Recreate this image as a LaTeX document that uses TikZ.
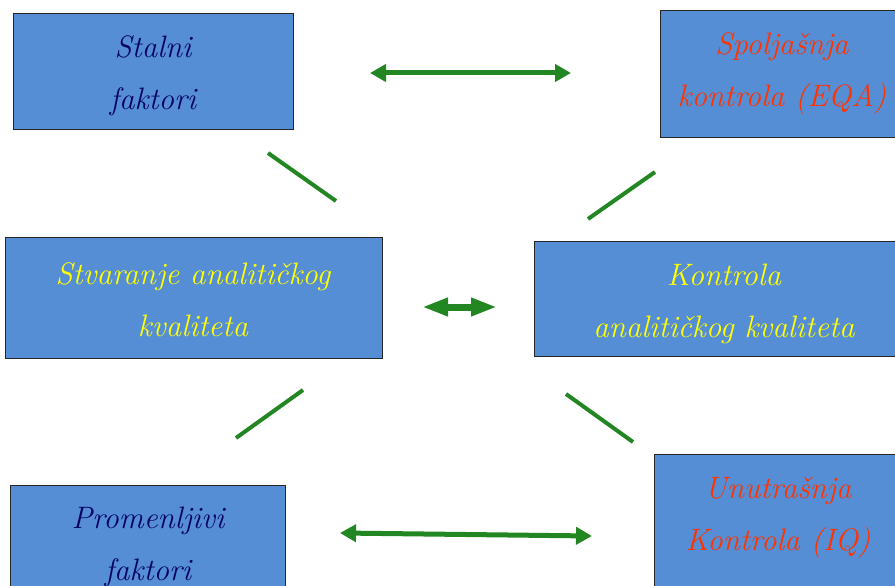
\documentclass[tikz,border=0pt]{standalone}
\usetikzlibrary{arrows.meta}
\definecolor{boxblue}{RGB}{85,142,213}
\definecolor{navytxt}{RGB}{5,5,100}
\definecolor{redtxt}{RGB}{255,51,0}
\definecolor{yeltxt}{RGB}{255,255,0}
\definecolor{grn}{RGB}{34,134,34}
\begin{document}
\begin{tikzpicture}[x=1pt,y=-1pt,
  box/.style={draw=black!85, line width=1pt, fill=boxblue, inner sep=0pt, anchor=north west},
  txt/.style={align=center, inner sep=0pt, font=\fontsize{31}{52}\selectfont\itshape},
  garrow/.style={draw=grn, line width=5pt, {Triangle[length=16pt,width=17pt]}-{Triangle[length=16pt,width=17pt]}},
  gshort/.style={draw=grn, line width=7pt, {Triangle[length=26pt,width=17pt]}-{Triangle[length=26pt,width=17pt]}},
  gline/.style={draw=grn, line width=4pt}]
\useasboundingbox (0,0) rectangle (895,586);
\begin{scope}
\clip (0,0) rectangle (895,586);
% boxes
\node[box, minimum width=280pt, minimum height=116pt] (b1) at (13,13) {};
\node[box, minimum width=250pt, minimum height=127pt] (b2) at (660,10) {};
\node[box, minimum width=377pt, minimum height=121pt] (b3) at (5,237) {};
\node[box, minimum width=380pt, minimum height=115pt] (b4) at (534,241) {};
\node[box, minimum width=275pt, minimum height=130pt] (b5) at (10,485) {};
\node[box, minimum width=250pt, minimum height=150pt] (b6) at (654,454) {};
% texts
\node[txt, text=navytxt] (t1) at (153,76) {Stalni\\faktori};
\node[txt, text=redtxt] (t2) at (782,73) {Spolja\v{s}nja\\kontrola (EQA)};
\node[txt, text=yeltxt] (t3) at (193,300) {Stvaranje analiti\v{c}kog\\kvaliteta};
\node[txt, text=yeltxt] (t4) at (724,304) {Kontrola\\analiti\v{c}kog kvaliteta};
\node[txt, text=navytxt] (t5) at (148,547) {Promenljivi\\faktori};
\node[txt, text=redtxt] (t6) at (778,518) {Unutra\v{s}nja\\Kontrola (IQ)};
% arrow end points
\coordinate (a1l) at (370,73);
\coordinate (a1r) at (571,73);
\coordinate (a2l) at (422,307);
\coordinate (a2r) at (497,307);
\coordinate (a3l) at (340,533);
\coordinate (a3r) at (592,536);
\draw[garrow] (a1l) -- (a1r);
\draw[gshort] (a2l) -- (a2r);
\draw[garrow] (a3l) -- (a3r);
% diagonal lines
\coordinate (d1a) at (268,153);
\coordinate (d1b) at (336,201);
\coordinate (d2a) at (655,172);
\coordinate (d2b) at (588,219);
\coordinate (d3a) at (303,390);
\coordinate (d3b) at (236,438);
\coordinate (d4a) at (566,394);
\coordinate (d4b) at (633,442);
\draw[gline] (d1a) -- (d1b);
\draw[gline] (d2a) -- (d2b);
\draw[gline] (d3a) -- (d3b);
\draw[gline] (d4a) -- (d4b);
\end{scope}
\end{tikzpicture}
\end{document}
